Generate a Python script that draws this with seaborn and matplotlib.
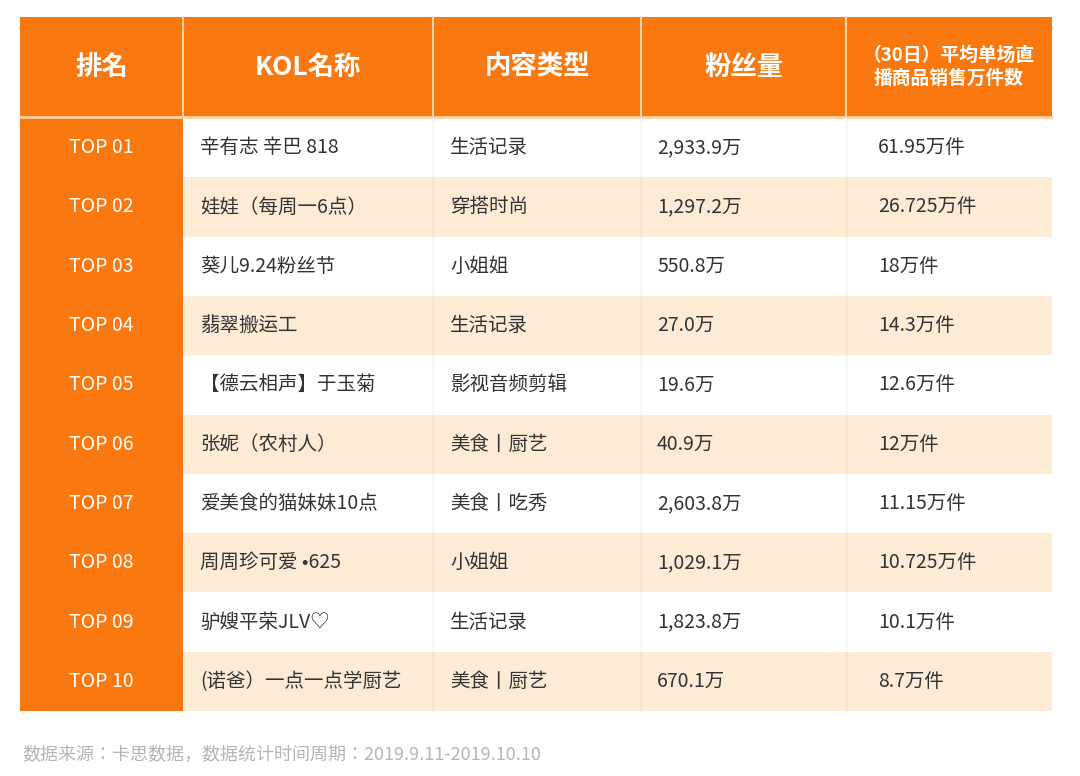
import matplotlib
matplotlib.use("Agg")
import matplotlib.pyplot as plt
import seaborn as sns
from matplotlib import font_manager as fm
from matplotlib.patches import Rectangle

sns.set_theme(style="white")
cjk = [f.name for f in fm.fontManager.ttflist if "CJK" in f.name]
pref = [n for n in cjk if n.endswith("SC")] or cjk
fam = (pref[:1] if pref else []) + ["DejaVu Sans"]
plt.rcParams["font.family"] = "sans-serif"
plt.rcParams["font.sans-serif"] = fam

headers = ["排名", "KOL名称", "内容类型", "粉丝量", "（30日）平均单场直\n播商品销售万件数"]
ranks = ["TOP 01", "TOP 02", "TOP 03", "TOP 04", "TOP 05", "TOP 06", "TOP 07", "TOP 08", "TOP 09", "TOP 10"]
names = ["辛有志 辛巴 818", "娃娃（每周一6点）", "葵儿9.24粉丝节", "翡翠搬运工", "【德云相声】于玉菊",
         "张妮（农村人）", "爱美食的猫妹妹10点", "周周珍可爱 •625", "驴嫂平荣JLV♡", "(诺爸）一点一点学厨艺"]
types = ["生活记录", "穿搭时尚", "小姐姐", "生活记录", "影视音频剪辑", "美食丨厨艺", "美食丨吃秀", "小姐姐", "生活记录", "美食丨厨艺"]
fans = ["2,933.9万", "1,297.2万", "550.8万", "27.0万", "19.6万", "40.9万", "2,603.8万", "1,029.1万", "1,823.8万", "670.1万"]
sales = ["61.95万件", "26.725万件", "18万件", "14.3万件", "12.6万件", "12万件", "11.15万件", "10.725万件", "10.1万件", "8.7万件"]

W, H = 1080, 776
fig = plt.figure(figsize=(10.8, 7.76), dpi=100)
ax = fig.add_axes([0, 0, 1, 1])
ax.set_xlim(0, W)
ax.set_ylim(H, 0)
ax.axis("off")

orange = "#f9780f"
cream = "#fdebd6"
cols = [(20, 183), (183, 433), (433, 641), (641, 846), (846, 1052)]
text_x = [None, 200, 450, 657, 878]
top, hh = 17, 100
rh = 59.3

for i, (x0, x1) in enumerate(cols):
    ax.add_patch(Rectangle((x0, top), x1 - x0, hh, color=orange, lw=0))
    fs = 13.5 if i == 4 else 19
    ax.text((x0 + x1) / 2, top + hh / 2, headers[i], ha="center", va="center", color="white",
            fontsize=fs, fontweight="bold", linespacing=1.3)
    if i > 0:
        ax.plot([x0, x0], [top, top + hh], color="#fbd3a0", lw=1.5)
ax.plot([20, 1052], [top + hh, top + hh], color="#fbd3a0", lw=2)

y0 = top + hh + 1
for r in range(len(ranks)):
    yt = y0 + r * rh
    yc = yt + rh / 2
    ax.add_patch(Rectangle((cols[0][0], yt), cols[0][1] - cols[0][0], rh, color=orange, lw=0))
    ax.text(101, yc, ranks[r], ha="center", va="center", color="white", fontsize=14)
    bg = "white" if r % 2 == 0 else cream
    ax.add_patch(Rectangle((183, yt), 1052 - 183, rh, color=bg, lw=0))
    for x0, _ in cols[2:]:
        ax.plot([x0, x0], [yt, yt + rh], color="#f3f3f3" if r % 2 == 0 else "#f7e0c6", lw=1)
    for c, vals in zip(range(1, 5), [names, types, fans, sales]):
        ax.text(text_x[c], yc, vals[r], ha="left", va="center", color="#333333", fontsize=14)

ax.text(22, 755, "数据来源：卡思数据，数据统计时间周期：2019.9.11-2019.10.10", ha="left", va="center",
        color="#b5b5b5", fontsize=13)

fig.savefig("out.png", dpi=100, facecolor="white")
